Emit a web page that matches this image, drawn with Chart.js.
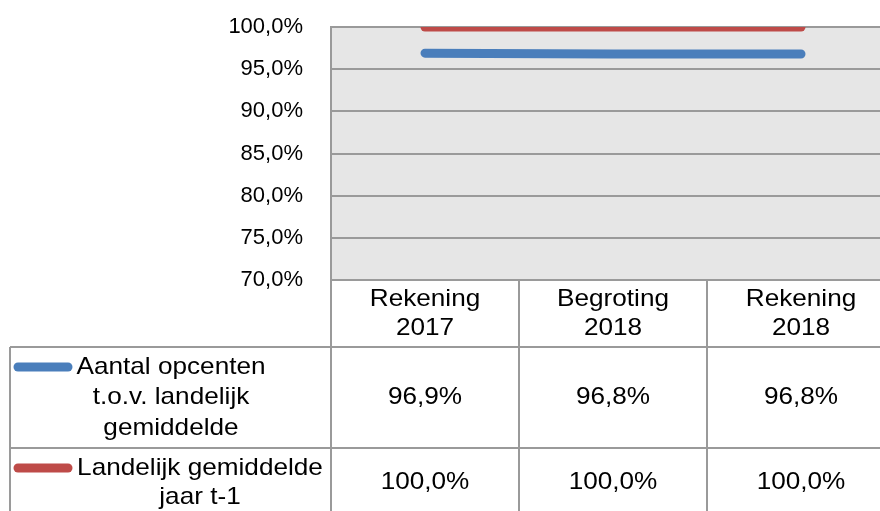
<!DOCTYPE html>
<html><head><meta charset="utf-8">
<script src="https://cdn.jsdelivr.net/npm/chart.js@4/dist/chart.umd.min.js"></script>
<style>
html,body{margin:0;padding:0;background:#fff;overflow:hidden;width:880px;height:511px}
#wrap{position:absolute;left:0;top:0;width:900px;height:511px}
</style>
</head><body><div id="wrap"><canvas id="c" width="900" height="511"></canvas></div>
<script>
// ---- data ----
const categories = [["Rekening", "2017"], ["Begroting", "2018"], ["Rekening", "2018"]];
const seriesNames = [["Aantal opcenten", "t.o.v. landelijk", "gemiddelde"], ["Landelijk gemiddelde", "jaar t-1"]];
const aantalOpcenten = [96.9, 96.8, 96.8];
const landelijkGemiddelde = [100.0, 100.0, 100.0];
const yMin = 70, yMax = 100, yStep = 5;

// ---- styling ----
const seriesColors = ["#4A7EBB", "#BE4B48"];
const gridColor = "#9a9a9a";
const plotBg = "#e6e6e6";
const fontFamily = '"Liberation Sans", Arial, sans-serif';
const fmt = v => v.toFixed(1).replace('.', ',') + '%';
const seriesValues = [aantalOpcenten, landelijkGemiddelde];

function stretchedText(ctx, text, x, y, align) {
  const sx = 1.09;
  ctx.save();
  ctx.translate(x, y);
  ctx.scale(sx, 1);
  ctx.textAlign = align || 'center';
  ctx.textBaseline = 'middle';
  ctx.fillText(text, 0, 0);
  ctx.restore();
}

const bgPlugin = {
  id: 'plotBg',
  beforeDraw(chart) {
    const a = chart.chartArea, ctx = chart.ctx;
    ctx.save();
    ctx.fillStyle = plotBg;
    ctx.fillRect(a.left, a.top, a.right - a.left, a.bottom - a.top);
    ctx.restore();
  }
};

const tablePlugin = {
  id: 'dataTable',
  afterDraw(chart) {
    const ctx = chart.ctx, a = chart.chartArea, x = chart.scales.x;
    const colW = (a.right - a.left) / categories.length;
    const headerTop = a.bottom, headerH = 67;
    const rowTops = [headerTop + headerH, headerTop + headerH + 101];
    const rowCenters = [rowTops[0] + 50.5, rowTops[1] + 34.5];
    const keyLeft = 10;
    const bottom = 560;
    ctx.save();
    ctx.strokeStyle = gridColor;
    ctx.lineWidth = 2;
    ctx.beginPath();
    for (let i = 0; i < categories.length; i++) {
      const bx = Math.round(x.getPixelForValue(i) - colW / 2);
      ctx.moveTo(bx, headerTop); ctx.lineTo(bx, bottom);
    }
    ctx.moveTo(keyLeft, rowTops[0]); ctx.lineTo(keyLeft, bottom);
    rowTops.forEach(t => { ctx.moveTo(keyLeft, t); ctx.lineTo(a.right + 10, t); });
    ctx.stroke();

    ctx.fillStyle = '#000';
    ctx.font = '24px ' + fontFamily;
    // header
    categories.forEach((lines, i) => {
      const cx = x.getPixelForValue(i);
      const hc = headerTop + 33.5;
      lines.forEach((t, k) => stretchedText(ctx, t, cx, hc + (k - (lines.length - 1) / 2) * 29));
    });
    // rows
    const keyCenters = [171, 200];
    const lineGaps = [30.5, 29];
    seriesNames.forEach((lines, r) => {
      const c = rowCenters[r];
      const firstY = c - (lines.length - 1) / 2 * lineGaps[r];
      // swatch
      ctx.save();
      ctx.strokeStyle = seriesColors[r];
      ctx.lineWidth = 9;
      ctx.lineCap = 'round';
      ctx.beginPath();
      ctx.moveTo(18, firstY); ctx.lineTo(68, firstY);
      ctx.stroke();
      ctx.restore();
      lines.forEach((t, k) => stretchedText(ctx, t, keyCenters[r], firstY + k * lineGaps[r]));
      seriesValues[r].forEach((v, i) => {
        stretchedText(ctx, fmt(v), x.getPixelForValue(i), c);
      });
    });
    ctx.restore();
  }
};

new Chart(document.getElementById('c'), {
  type: 'line',
  data: {
    labels: categories,
    datasets: [
      { label: seriesNames[0].join(' '), data: aantalOpcenten, borderColor: seriesColors[0], backgroundColor: seriesColors[0] },
      { label: seriesNames[1].join(' '), data: landelijkGemiddelde, borderColor: seriesColors[1], backgroundColor: seriesColors[1] }
    ].map(d => Object.assign(d, { borderWidth: 9, borderCapStyle: 'round', borderJoinStyle: 'round', pointRadius: 0, tension: 0, fill: false, clip: 0 }))
  },
  options: {
    responsive: false,
    animation: false,
    layout: { padding: { top: 27, right: 5, bottom: 231, left: 0 } },
    plugins: { legend: { display: false }, tooltip: { enabled: false } },
    scales: {
      x: { type: 'category', offset: true, display: false },
      y: {
        min: yMin, max: yMax,
        afterFit(s) { s.width = 331; s.paddingTop = 0; s.paddingBottom = 0; },
        grid: { color: gridColor, lineWidth: 2, drawTicks: false },
        border: { display: true, color: gridColor, width: 2 },
        ticks: { stepSize: yStep, padding: 28, color: '#000', font: { family: fontFamily, size: 22 }, callback: v => fmt(v) }
      }
    }
  },
  plugins: [bgPlugin, tablePlugin]
});
</script>
</body></html>
